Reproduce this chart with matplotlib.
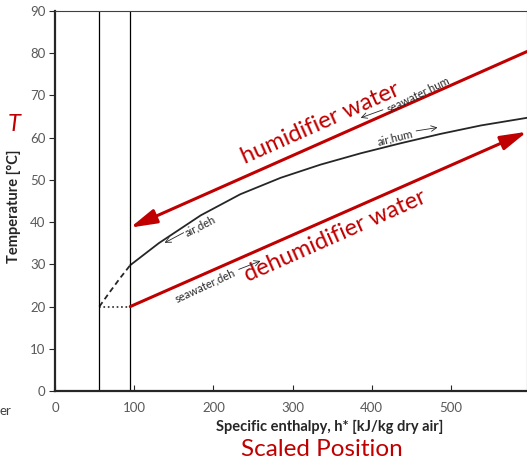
import numpy as np
import matplotlib.pyplot as plt

plt.rcParams['font.family'] = ['Lato', 'DejaVu Sans']

# air curve (dashed part below the pinch, solid part above)
h_air_dash = [56, 69, 82, 95]
T_air_dash = [20.0, 23.4, 26.7, 29.8]
h_air = [95, 131, 184, 234, 285, 335, 386, 437, 487, 538, 596]
T_air = [29.8, 35.0, 41.6, 46.6, 50.5, 53.6, 56.3, 58.7, 60.9, 62.9, 64.7]

# seawater lines (start, end)
h_hum = [596, 95]
T_hum = [80.4, 38.7]
h_deh = [95, 596]
T_deh = [20.0, 61.4]

# vertical marker lines
h_vlines = [56, 95]

red = '#c00000'
dark = '#262626'

fig = plt.figure(figsize=(5.27, 4.59), dpi=100)
ax = fig.add_axes([55/527, 68/459, 472/527, 380/459])

ax.plot(h_air, T_air, color=dark, lw=1.3)
ax.plot(h_air_dash, T_air_dash, color=dark, lw=1.3, ls=(0, (3, 2)))
ax.plot([h_vlines[0], h_vlines[1]], [20, 20], color=dark, lw=1.2, ls=':')
for hv in h_vlines:
    ax.axvline(hv, color='black', lw=0.9)

arrow_kw = dict(arrowstyle='-|>,head_length=0.8,head_width=0.22', color=red, lw=2.2,
                mutation_scale=20, shrinkA=0, shrinkB=0)
ax.annotate('', xy=(h_hum[1], T_hum[1]), xytext=(h_hum[0], T_hum[0]),
            arrowprops=arrow_kw, annotation_clip=False)
ax.annotate('', xy=(h_deh[1], T_deh[1]), xytext=(h_deh[0], T_deh[0]),
            arrowprops=arrow_kw, annotation_clip=False)

# big red labels
ax.text(335, 63.4, 'humidifier water', color=red, fontsize=17, rotation=24,
        ha='center', va='center', rotation_mode='anchor')
ax.text(354, 36.6, 'dehumidifier water', color=red, fontsize=17, rotation=24,
        ha='center', va='center', rotation_mode='anchor')

# small stream labels with arrows
small = dict(color=dark, fontsize=8, ha='center', va='center', rotation_mode='anchor')
thin = dict(arrowstyle='->', color=dark, lw=0.6, shrinkA=0, shrinkB=0)
ax.text(459, 70.3, 'seawater,hum', rotation=26, **small)
ax.annotate('', xy=(386, 64.7), xytext=(414, 66.6), arrowprops=thin)
ax.text(430, 60.1, 'air,hum', rotation=14, **small)
ax.annotate('', xy=(483, 62.4), xytext=(456, 61.6), arrowprops=thin)
ax.text(183.5, 39.1, 'air,deh', rotation=27, **small)
ax.annotate('', xy=(138.4, 35.1), xytext=(162.4, 37.5), arrowprops=thin)
ax.text(190, 24.9, 'seawater,deh', rotation=25, **small)
ax.annotate('', xy=(259.5, 30.8), xytext=(232, 28.8), arrowprops=thin)

ax.set_xlim(0, 596)
ax.set_ylim(0, 90)
ax.set_xticks([0, 100, 200, 300, 400, 500])
ax.set_yticks(np.arange(0, 91, 10))
ax.tick_params(axis='x', direction='in', length=4, pad=8, labelsize=9.5, labelcolor='#595959', color=dark)
ax.tick_params(axis='y', direction='out', length=4, pad=3, labelsize=9.5, labelcolor='#595959', color=dark)
for s in ['left', 'bottom']:
    ax.spines[s].set_linewidth(1.6)
    ax.spines[s].set_color(dark)
for s in ['top', 'right']:
    ax.spines[s].set_linewidth(0.8)
    ax.spines[s].set_color('#404040')

fig.text(14/527, 1 - 206/459, 'Temperature [°C]', rotation=90, ha='center', va='center',
         fontsize=10.5, fontweight='bold', color=dark)
fig.text(330/527, 1 - 427/459, 'Specific enthalpy, h* [kJ/kg dry air]', ha='center', va='center',
         fontsize=10.5, fontweight='bold', color=dark)
fig.text(14/527, 1 - 124/459, 'T', color=red, fontsize=17, style='italic', ha='center', va='center')
fig.text(322/527, 1 - 450/459, 'Scaled Position', color=red, fontsize=17.5, ha='center', va='center')
fig.text(0, 1 - 411/459, 'er', color='#404040', fontsize=9.5, ha='left', va='center')

fig.savefig('out.png', dpi=100)
